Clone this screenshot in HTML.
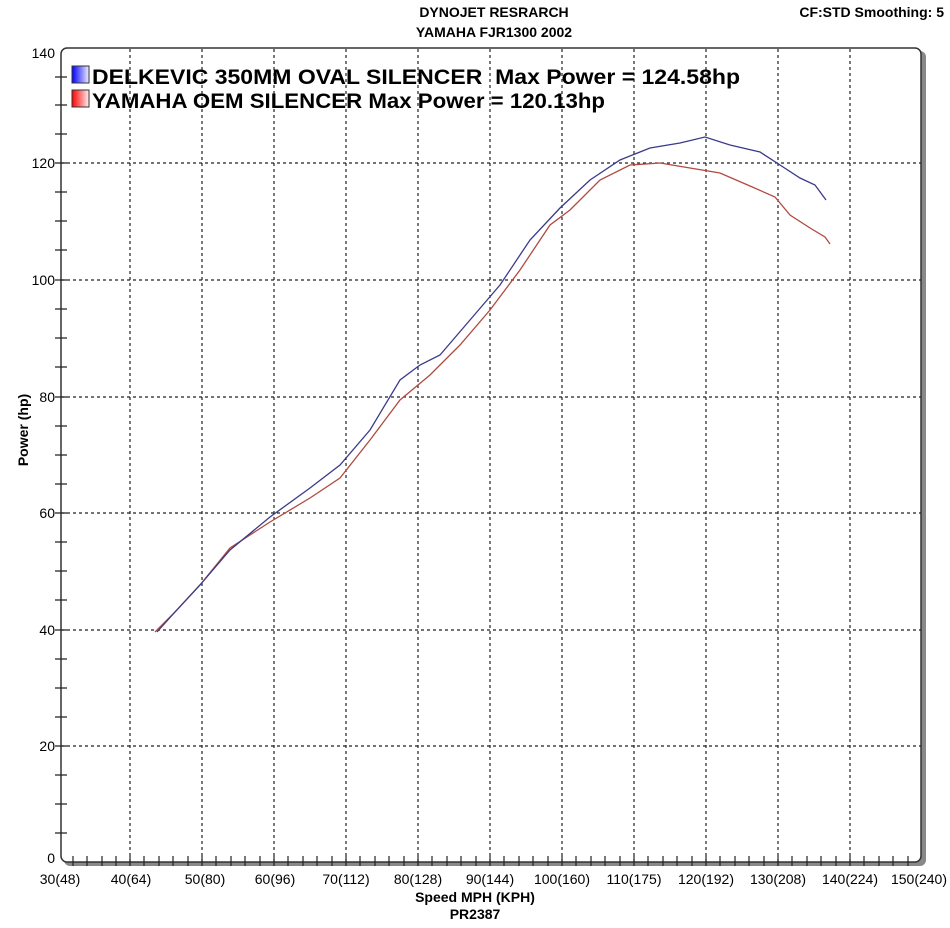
<!DOCTYPE html>
<html><head><style>body{margin:0;background:#fff}svg{display:block}</style></head><body>
<svg width="950" height="928" xmlns="http://www.w3.org/2000/svg" font-family="Liberation Sans, Arial, sans-serif">
<text x="494" y="17" font-size="14" font-weight="bold" text-anchor="middle">DYNOJET RESRARCH</text>
<text x="494" y="37" font-size="14" font-weight="bold" text-anchor="middle">YAMAHA FJR1300 2002</text>
<text x="944" y="17" font-size="14" font-weight="bold" text-anchor="end">CF:STD Smoothing: 5</text>
<rect x="64" y="51" width="862" height="815" rx="6" fill="#888"/>
<rect x="61" y="48" width="860" height="814" rx="6" fill="#fff" stroke="#333" stroke-width="1.5"/>
<g stroke="#222" stroke-dasharray="3,3" stroke-width="1.2">
<line x1="130" y1="49" x2="130" y2="862"/><line x1="202" y1="49" x2="202" y2="862"/><line x1="274" y1="49" x2="274" y2="862"/><line x1="346" y1="49" x2="346" y2="862"/><line x1="418" y1="49" x2="418" y2="862"/><line x1="490" y1="49" x2="490" y2="862"/><line x1="562" y1="49" x2="562" y2="862"/><line x1="634" y1="49" x2="634" y2="862"/><line x1="706" y1="49" x2="706" y2="862"/><line x1="778" y1="49" x2="778" y2="862"/><line x1="850" y1="49" x2="850" y2="862"/>
<line x1="61" y1="163" x2="921" y2="163"/><line x1="61" y1="280" x2="921" y2="280"/><line x1="61" y1="397" x2="921" y2="397"/><line x1="61" y1="513" x2="921" y2="513"/><line x1="61" y1="630" x2="921" y2="630"/><line x1="61" y1="746" x2="921" y2="746"/>
</g>
<g font-size="14" text-anchor="end">
<text x="55" y="58">140</text><text x="55" y="168">120</text><text x="55" y="285">100</text><text x="55" y="402">80</text><text x="55" y="518">60</text><text x="55" y="635">40</text><text x="55" y="751">20</text><text x="55" y="863">0</text>
</g>
<g font-size="14" text-anchor="middle">
<text x="60" y="884">30(48)</text><text x="131" y="884">40(64)</text><text x="205" y="884">50(80)</text><text x="275" y="884">60(96)</text><text x="346" y="884">70(112)</text><text x="418" y="884">80(128)</text><text x="490" y="884">90(144)</text><text x="562" y="884">100(160)</text><text x="634" y="884">110(175)</text><text x="706" y="884">120(192)</text><text x="778" y="884">130(208)</text><text x="850" y="884">140(224)</text><text x="919" y="884">150(240)</text>
</g>
<text x="475" y="902" font-size="14" font-weight="bold" text-anchor="middle">Speed MPH (KPH)</text>
<text x="475" y="919" font-size="14" font-weight="bold" text-anchor="middle">PR2387</text>
<text transform="translate(28,430) rotate(-90)" font-size="14" font-weight="bold" text-anchor="middle">Power (hp)</text>
<defs><linearGradient id="gb"><stop offset="0" stop-color="#00f"/><stop offset="1" stop-color="#eef"/></linearGradient><linearGradient id="gr"><stop offset="0" stop-color="#f00"/><stop offset="1" stop-color="#fee"/></linearGradient></defs>
<rect x="72" y="66" width="17" height="17" fill="url(#gb)" stroke="#333"/>
<rect x="72" y="90" width="17" height="17" fill="url(#gr)" stroke="#333"/>
<text x="92" y="84" font-size="21" font-weight="bold" textLength="648" lengthAdjust="spacingAndGlyphs" xml:space="preserve">DELKEVIC 350MM OVAL SILENCER  Max Power = 124.58hp</text>
<text x="92" y="108" font-size="21" font-weight="bold" textLength="513" lengthAdjust="spacingAndGlyphs">YAMAHA OEM SILENCER Max Power = 120.13hp</text>
<polyline fill="none" stroke="#b04a40" stroke-width="1.3" points="155,632 175,612 200,585 230,548 270,522 310,498 340,478 370,440 400,400 430,375 460,345 490,310 520,270 550,225 570,210 600,180 630,165 660,163 690,168 720,173 750,186 775,197 790,215 810,228 825,237 830,244"/>
<polyline fill="none" stroke="#3a3a8a" stroke-width="1.3" points="157,632 175,612 200,585 230,550 270,517 310,488 340,465 370,430 400,380 420,365 440,355 470,320 500,285 530,240 560,208 590,180 620,160 650,148 680,143 705,137 730,145 760,152 780,165 800,178 815,185 826,200"/>
<g stroke="#222" stroke-width="1.2">
<path d="M55 77h12M55 105h12M55 134h12M55 163h12M55 192h12M55 221h12M55 250h12M55 280h12M55 309h12M55 338h12M55 367h12M55 397h12M55 426h12M55 455h12M55 484h12M55 513h12M55 542h12M55 571h12M55 600h12M55 630h12M55 659h12M55 688h12M55 717h12M55 746h12M55 775h12M55 804h12M55 833h12"/>
</g>
<g stroke="#222" stroke-width="1.2" fill="none">
<path d="M73 856v10M87 856v10M102 856v10M116 856v10M130 856v10M144 856v10M159 856v10M173 856v10M188 856v10M202 856v10M216 856v10M231 856v10M245 856v10M260 856v10M274 856v10M288 856v10M303 856v10M317 856v10M332 856v10M346 856v10M360 856v10M375 856v10M389 856v10M404 856v10M418 856v10M432 856v10M447 856v10M461 856v10M476 856v10M490 856v10M504 856v10M519 856v10M533 856v10M548 856v10M562 856v10M576 856v10M591 856v10M605 856v10M620 856v10M634 856v10M648 856v10M663 856v10M677 856v10M692 856v10M706 856v10M720 856v10M735 856v10M749 856v10M764 856v10M778 856v10M792 856v10M807 856v10M821 856v10M836 856v10M850 856v10M864 856v10M879 856v10M893 856v10M908 856v10"/>
</g>
</svg>
</body></html>
